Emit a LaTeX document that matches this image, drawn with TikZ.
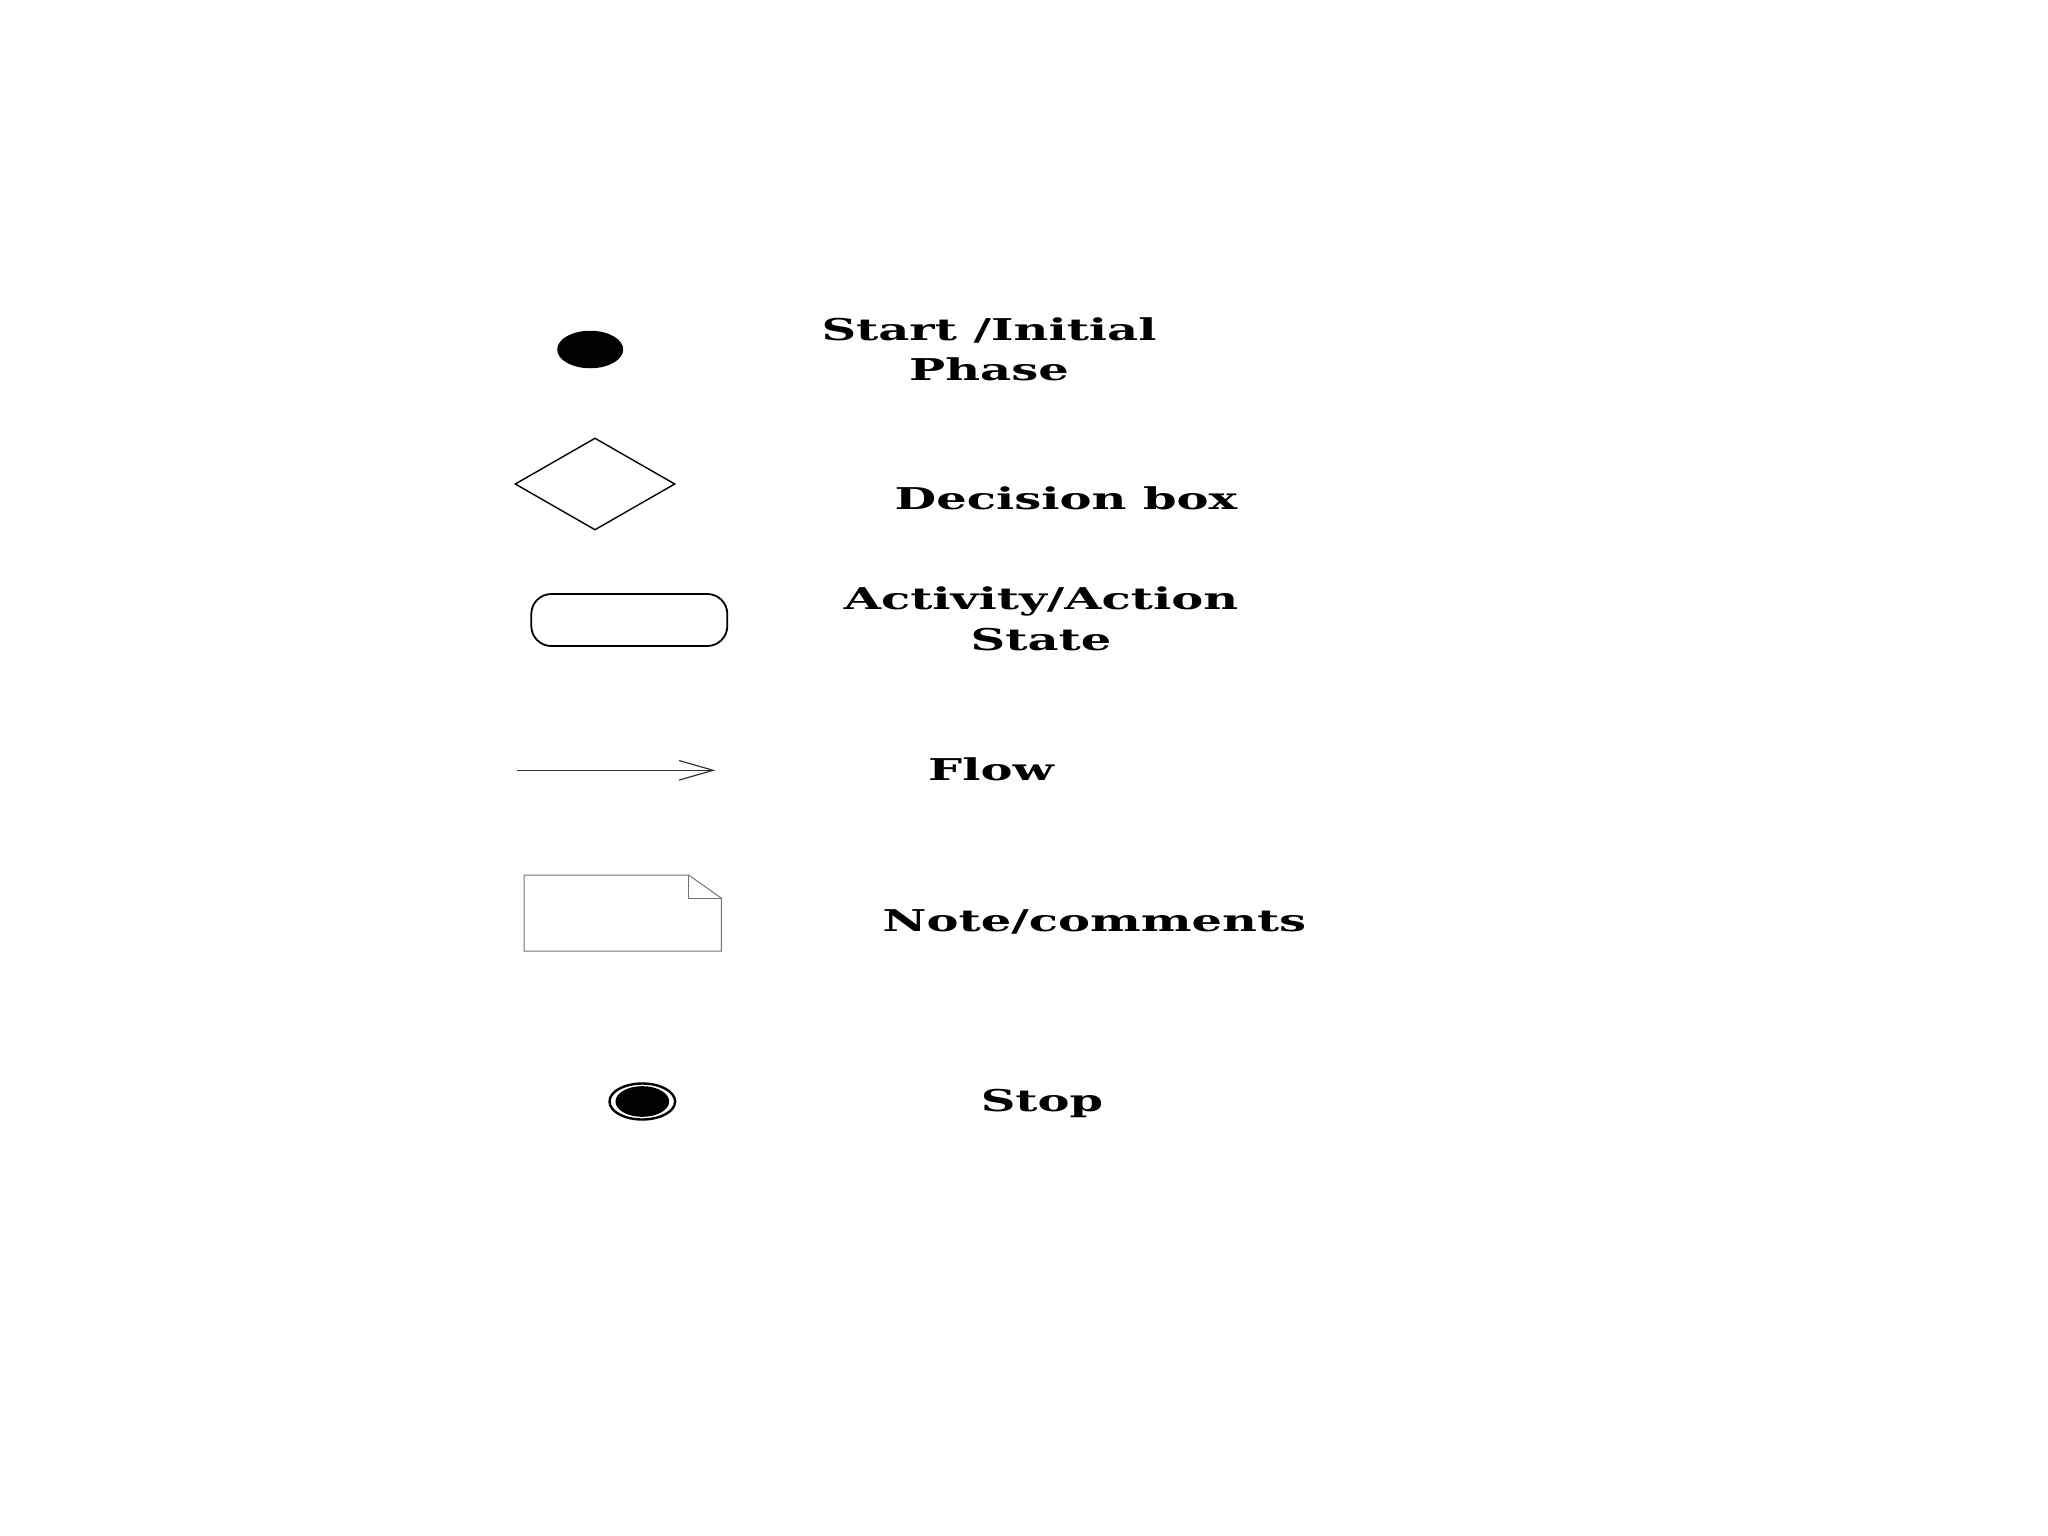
\documentclass[tikz,border=0pt]{standalone}
\usepackage{fontspec}
\setmainfont{DejaVu Serif}
\newfontfamily\lblfont[FakeStretch=1.6]{DejaVu Serif}
\usetikzlibrary{shapes.geometric,arrows.meta}
\begin{document}
\begin{tikzpicture}[x=1pt,y=-1pt,
  lbl/.style={font=\lblfont\bfseries\fontsize{30}{40.5}\selectfont, align=center, inner sep=0pt, anchor=base},
  shp/.style={draw=black, line width=1.5pt, inner sep=0pt}]
\useasboundingbox[fill=white] (0,0) rectangle (2048,1536);
% start
\node[ellipse, fill=black, inner sep=0pt, minimum width=66pt, minimum height=37.5pt] (start) at (590.2,349.5) {};
\node[lbl] (tstart) at (989,380.7) {Start /Initial\\Phase};
% decision
\node[shp, diamond, line width=1.4pt, minimum width=160pt, minimum height=92pt] (dec) at (595,484) {};
\node[lbl] (tdec) at (1066,509.5) {Decision box};
% activity
\node[shp, rectangle, rounded corners=20pt, line width=1.8pt, minimum width=196pt, minimum height=52pt] (act) at (629.3,620) {};
\node[lbl] (tact) at (1041,650) {Activity/Action\\State};
% flow
\coordinate (fa) at (517,770.3);
\coordinate (fb) at (715.3,770.3);
\draw[line width=1.2pt, draw=black!80, -{Straight Barb[length=34pt,width=19.5pt,line width=1.2pt]}] (fa) -- (fb);
\node[lbl] (tflow) at (991,780.7) {Flow};
% note
\node[inner sep=0pt, minimum width=196.7pt, minimum height=75.7pt] (note) at (622.75,913.15) {};
\draw[draw=black!55, line width=1pt] (note.north west) -- ([xshift=-32.5pt]note.north east) -- ([yshift=-23pt]note.north east) -- (note.south east) -- (note.south west) -- cycle;
\draw[draw=black!55, line width=1pt] ([xshift=-32.5pt]note.north east) |- ([yshift=-23pt]note.north east);
\node[lbl] (tnote) at (1094.5,931.7) {Note/comments};
% stop
\node[draw=black, line width=2.4pt, ellipse, inner sep=0pt, minimum width=65.6pt, minimum height=36pt] (stop) at (642.3,1101.5) {};
\node[ellipse, fill=black, inner sep=0pt, minimum width=53.7pt, minimum height=30.7pt] (stopin) at (stop.center) {};
\node[lbl] (tstop) at (1042,1111.7) {Stop};
\end{tikzpicture}
\end{document}
